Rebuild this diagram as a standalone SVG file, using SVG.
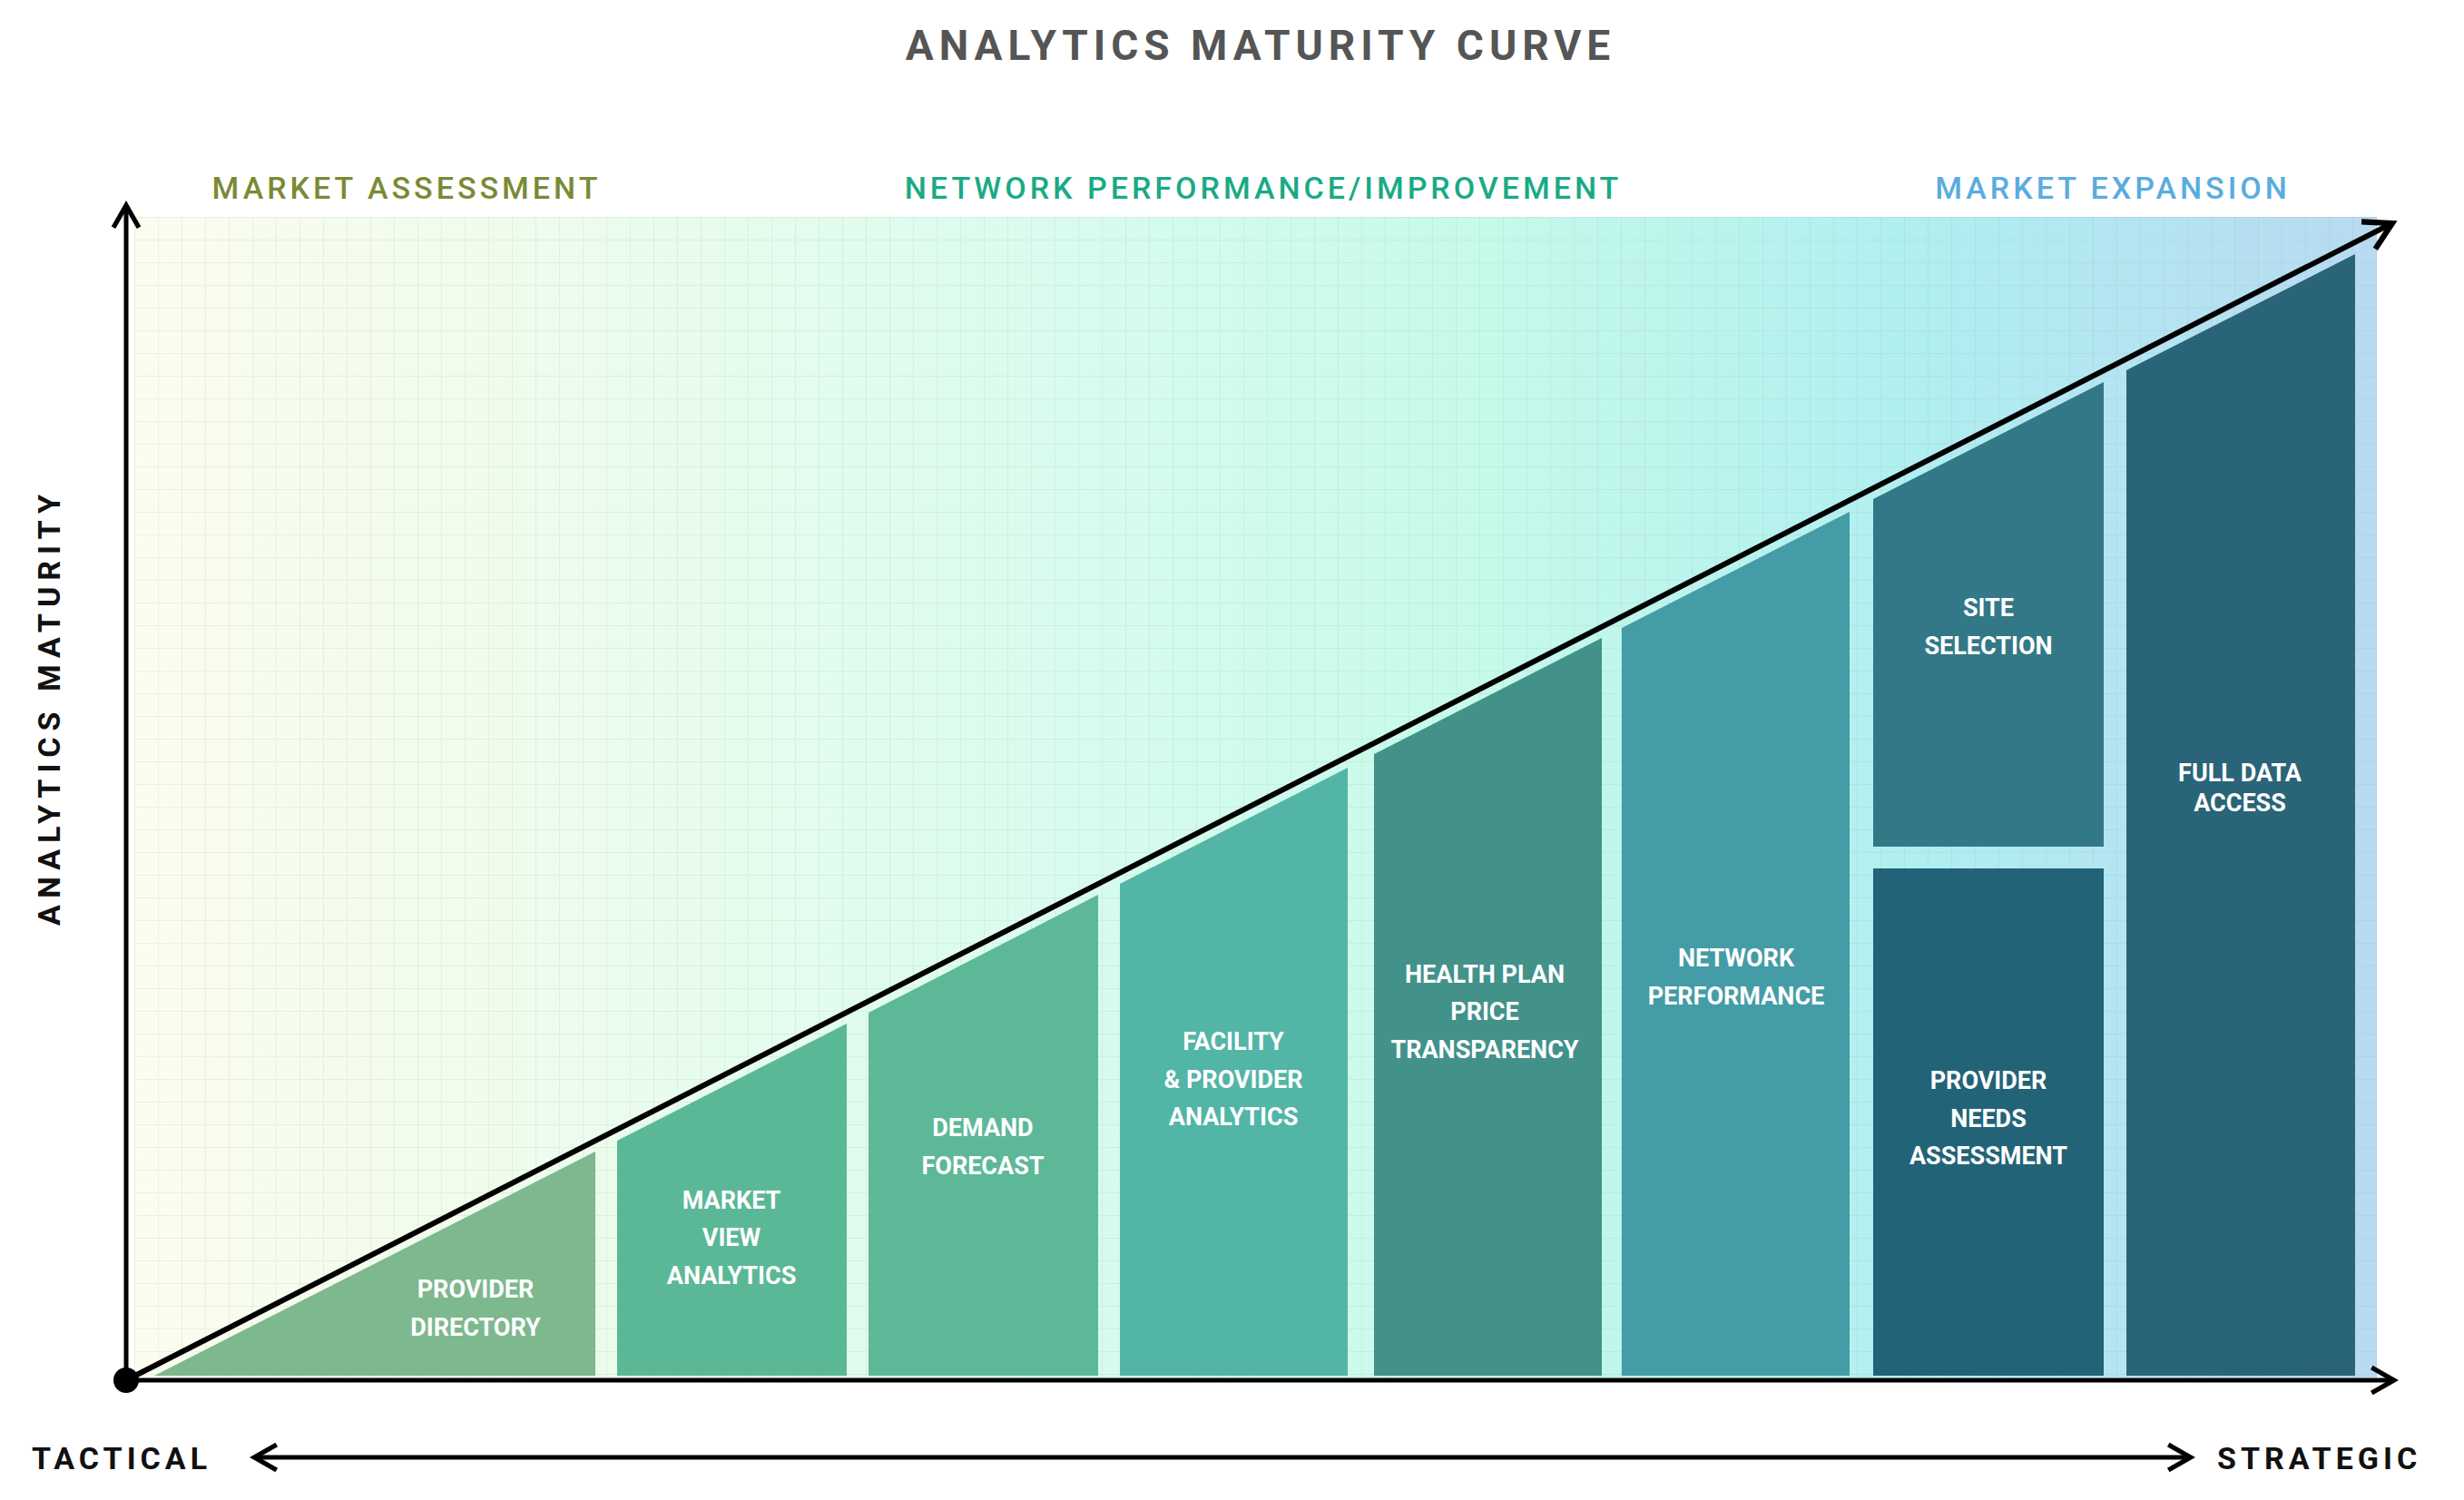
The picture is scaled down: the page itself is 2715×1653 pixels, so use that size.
<svg xmlns="http://www.w3.org/2000/svg" width="2715" height="1653" viewBox="0 0 2715 1653">
<defs>
<linearGradient id="bg" x1="0" y1="0" x2="1" y2="0">
<stop offset="0" stop-color="#fbfdef"/>
<stop offset="0.15" stop-color="#f0fcec"/>
<stop offset="0.4" stop-color="#dafcee"/>
<stop offset="0.6" stop-color="#c6faea"/>
<stop offset="0.8" stop-color="#b0eef0"/>
<stop offset="1" stop-color="#b8daf2"/>
</linearGradient>
<pattern id="grid" width="26" height="25" patternUnits="userSpaceOnUse" x="148" y="239">
<path d="M0 0V25M0 0H26" fill="none" stroke="#999" stroke-opacity="0.18" stroke-width="1.5"/>
</pattern>
<marker id="arr" viewBox="0 0 20 20" refX="16" refY="10" markerWidth="7" markerHeight="7" orient="auto-start-reverse" markerUnits="strokeWidth">
<path d="M3 2L17 10L3 18" fill="none" stroke="#000" stroke-width="3"/>
</marker>
</defs>
<style>
.lbl{font-family:Roboto,"Liberation Sans",sans-serif;font-weight:700;font-size:27px;fill:#fff;text-anchor:middle}
.sec{font-family:Roboto,"Liberation Sans",sans-serif;font-weight:500;font-size:34px;letter-spacing:4px;text-anchor:middle}
.ax{font-family:Roboto,"Liberation Sans",sans-serif;font-weight:700;font-size:34px;letter-spacing:5px;fill:#111}
</style>
<rect width="2715" height="1653" fill="#fff"/>
<text x="1389" y="66" text-anchor="middle" style="font-family:Roboto,'Liberation Sans',sans-serif;font-weight:700;font-size:46px;letter-spacing:6px;fill:#555">ANALYTICS MATURITY CURVE</text>
<text class="sec" x="448" y="219" fill="#7a8a35">MARKET ASSESSMENT</text>
<text class="sec" x="1392" y="219" fill="#1aaa85">NETWORK PERFORMANCE/IMPROVEMENT</text>
<text class="sec" x="2328" y="219" fill="#5aacdf">MARKET EXPANSION</text>
<rect x="148" y="239" width="2471" height="1279" fill="url(#bg)"/>
<rect x="148" y="239" width="2471" height="1279" fill="url(#grid)"/>
<g id="n1"><polygon points="170,1516 656,1269 656,1516" fill="#7db88e"/><text class="lbl" x="524" y="1430">PROVIDER</text><text class="lbl" x="524" y="1472">DIRECTORY</text></g>
<g id="n2"><polygon points="680,1257 933,1128 933,1516 680,1516" fill="#5bb896"/><text class="lbl" x="806" y="1332">MARKET</text><text class="lbl" x="806" y="1373">VIEW</text><text class="lbl" x="806" y="1415">ANALYTICS</text></g>
<g id="n3"><polygon points="957,1116 1210,986 1210,1516 957,1516" fill="#5db898"/><text class="lbl" x="1083" y="1252">DEMAND</text><text class="lbl" x="1083" y="1294">FORECAST</text></g>
<g id="n4"><polygon points="1234,974 1485,846 1485,1516 1234,1516" fill="#52b5a6"/><text class="lbl" x="1359" y="1157">FACILITY</text><text class="lbl" x="1359" y="1199">&amp; PROVIDER</text><text class="lbl" x="1359" y="1240">ANALYTICS</text></g>
<g id="n5"><polygon points="1514,831 1765,703 1765,1516 1514,1516" fill="#42928a"/><text class="lbl" x="1636" y="1083">HEALTH PLAN</text><text class="lbl" x="1636" y="1124">PRICE</text><text class="lbl" x="1636" y="1166">TRANSPARENCY</text></g>
<g id="n6"><polygon points="1787,692 2038,564 2038,1516 1787,1516" fill="#449ca6"/><text class="lbl" x="1913" y="1065">NETWORK</text><text class="lbl" x="1913" y="1107">PERFORMANCE</text></g>
<g id="n7"><polygon points="2064,550 2318,421 2318,933 2064,933" fill="#337887"/><text class="lbl" x="2191" y="679">SITE</text><text class="lbl" x="2191" y="721">SELECTION</text></g>
<g id="n8"><rect x="2064" y="957" width="254" height="559" fill="#236378"/><text class="lbl" x="2191" y="1200">PROVIDER</text><text class="lbl" x="2191" y="1242">NEEDS</text><text class="lbl" x="2191" y="1283">ASSESSMENT</text></g>
<g id="n9"><polygon points="2343,408 2595,280 2595,1516 2343,1516" fill="#2a6478"/><text class="lbl" x="2468" y="861">FULL DATA</text><text class="lbl" x="2468" y="894">ACCESS</text></g>
<g id="connectors" fill="none" stroke="#000">
<line x1="139" y1="1521" x2="139" y2="228" stroke-width="5" marker-end="url(#arr)"/>
<line x1="139" y1="1521" x2="2636" y2="1521" stroke-width="5" marker-end="url(#arr)"/>
<line x1="139" y1="1521" x2="2634" y2="247" stroke-width="6" marker-end="url(#arr)"/>
<line x1="282" y1="1606" x2="2412" y2="1606" stroke-width="5" marker-start="url(#arr)" marker-end="url(#arr)"/>
</g>
<circle cx="139" cy="1521" r="14" fill="#000"/>
<text class="ax" x="35" y="1619">TACTICAL</text>
<text class="ax" x="2443" y="1619">STRATEGIC</text>
<text class="ax" transform="translate(66,779) rotate(-90)" text-anchor="middle" style="letter-spacing:7px">ANALYTICS  MATURITY</text>
</svg>
